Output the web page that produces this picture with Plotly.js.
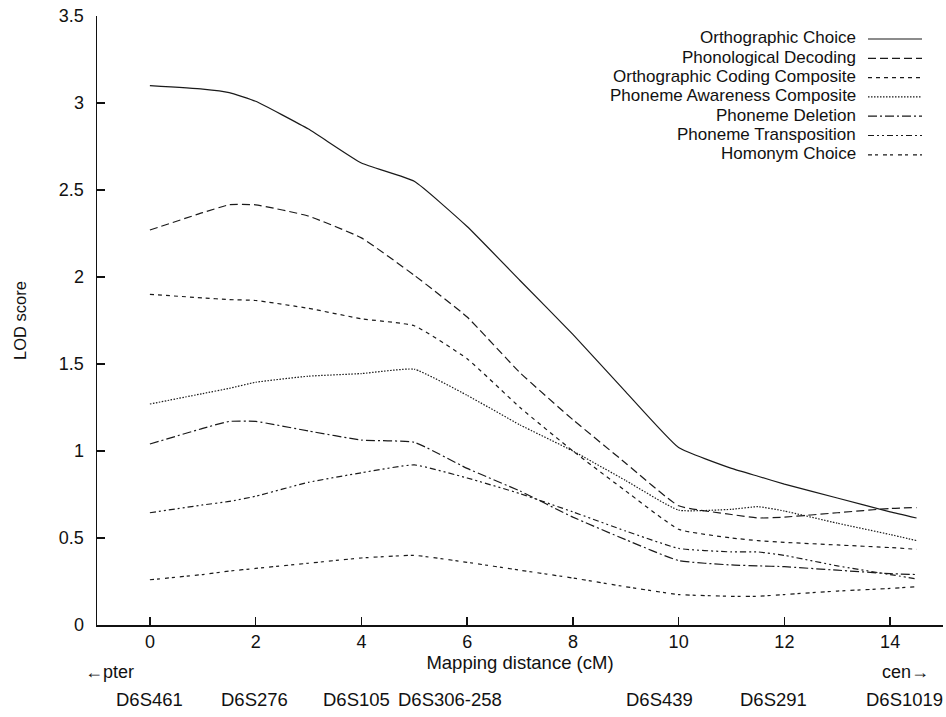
<!DOCTYPE html>
<html>
<head>
<meta charset="utf-8">
<script src="https://cdn.plot.ly/plotly-3.0.1.min.js"></script>
<style>html,body{margin:0;padding:0;background:#fff;}#chart{width:946px;height:717px;}</style>
</head>
<body>
<div id="chart"></div>
<script>
// Mapping distance (cM)
const distance = [0, 1, 1.5, 2, 3, 4, 5, 6, 7, 8, 9, 10, 11, 11.5, 12, 13, 14, 14.5];

const orthographicChoice   = [3.10, 3.08, 3.06, 3.01, 2.85, 2.655, 2.55, 2.29, 1.98, 1.67, 1.34, 1.02, 0.90, 0.855, 0.81, 0.73, 0.65, 0.615];
const phonologicalDecoding = [2.27, 2.37, 2.415, 2.415, 2.35, 2.225, 2.01, 1.77, 1.45, 1.18, 0.93, 0.685, 0.635, 0.615, 0.62, 0.645, 0.67, 0.675];
const orthoCodingComposite = [1.90, 1.88, 1.87, 1.865, 1.82, 1.76, 1.72, 1.53, 1.25, 1.00, 0.77, 0.55, 0.50, 0.485, 0.475, 0.46, 0.445, 0.435];
const phonemeAwareness     = [1.27, 1.33, 1.36, 1.395, 1.43, 1.445, 1.47, 1.32, 1.15, 1.00, 0.83, 0.66, 0.665, 0.68, 0.655, 0.585, 0.52, 0.485];
const phonemeDeletion      = [1.04, 1.13, 1.17, 1.17, 1.115, 1.063, 1.05, 0.90, 0.77, 0.62, 0.49, 0.37, 0.345, 0.34, 0.335, 0.315, 0.295, 0.29];
const phonemeTransposition = [0.645, 0.69, 0.71, 0.74, 0.82, 0.875, 0.92, 0.845, 0.755, 0.65, 0.54, 0.44, 0.42, 0.42, 0.40, 0.34, 0.29, 0.265];
const homonymChoice        = [0.26, 0.29, 0.31, 0.325, 0.355, 0.385, 0.40, 0.36, 0.315, 0.27, 0.22, 0.175, 0.165, 0.165, 0.175, 0.195, 0.21, 0.22];

const seriesNames = ["Orthographic Choice", "Phonological Decoding", "Orthographic Coding Composite",
  "Phoneme Awareness Composite", "Phoneme Deletion", "Phoneme Transposition", "Homonym Choice"];

// Marker labels along the map (cM positions)
const markerLabels = ["D6S461", "D6S276", "D6S105", "D6S306-258", "D6S439", "D6S291", "D6S1019"];
const markerPos    = [0, 1.98, 3.91, 5.67, 9.64, 11.8, 14.27];

const xTicks = [0, 2, 4, 6, 8, 10, 12, 14];
const yTicks = [0, 0.5, 1, 1.5, 2, 2.5, 3, 3.5];

const seriesValues = [orthographicChoice, phonologicalDecoding, orthoCodingComposite,
  phonemeAwareness, phonemeDeletion, phonemeTransposition, homonymChoice];
const dashes = ["solid", "8px,4px", "4px,4px", "1.5px,1.5px", "9px,3px,2px,3px", "6px,3px,2px,3px,2px,3px", "4px,3px,3px,5px"];

const FONT = '"Liberation Sans", Arial, Helvetica, sans-serif';
const INK = "#1a1a1a";

const traces = seriesNames.map((n, i) => ({
  type: "scatter", mode: "lines", name: n, showlegend: false,
  x: distance, y: seriesValues[i],
  line: {color: INK, width: 1.2, dash: dashes[i], shape: "spline", smoothing: 0.4}
}));

// plot-area geometry (pixels) used to place legend in paper coordinates
const W = 946, H = 717, ML = 97, MR = 3, MT = 16, MB = 92;
const PW = W - ML - MR, PH = H - MT - MB;
const px = v => (v - ML) / PW;
const py = v => (H - MB - v) / PH;

const annotations = markerLabels.map((t, i) => ({
  text: t, x: markerPos[i], xref: "x", y: py(699), yref: "paper",
  xanchor: "center", yanchor: "middle", showarrow: false,
  font: {family: FONT, size: 18.5, color: "#111"}
}));
annotations.push({text: "←pter", x: -0.76, xref: "x", y: py(672), yref: "paper",
  xanchor: "center", yanchor: "middle", showarrow: false, font: {family: FONT, size: 18, color: "#111"}});
annotations.push({text: "cen→", x: 14.3, xref: "x", y: py(672), yref: "paper",
  xanchor: "center", yanchor: "middle", showarrow: false, font: {family: FONT, size: 18, color: "#111"}});

// custom legend: right-aligned labels with line keys to the right
const shapes = [];
seriesNames.forEach((n, i) => {
  const rowY = 38 + 19.3 * i;
  annotations.push({text: n, x: px(858), xref: "paper", y: py(rowY), yref: "paper",
    xanchor: "right", yanchor: "middle", showarrow: false,
    font: {family: FONT, size: 17, color: "#111"}});
  shapes.push({type: "line", xref: "paper", yref: "paper",
    x0: px(868), x1: px(922), y0: py(rowY + 1), y1: py(rowY + 1),
    line: {color: INK, width: 1.2, dash: dashes[i]}});
});

const layout = {
  width: W, height: H,
  margin: {l: ML, r: MR, t: MT, b: MB},
  paper_bgcolor: "#fff", plot_bgcolor: "#fff",
  font: {family: FONT, size: 18, color: "#111"},
  showlegend: false,
  xaxis: {
    range: [-1, 15], tickvals: xTicks, ticktext: xTicks.map(String),
    showgrid: false, zeroline: false, showline: true, linecolor: "#111", linewidth: 1.5,
    ticks: "inside", ticklen: 8, tickwidth: 1.3, tickcolor: "#111",
    tickfont: {family: FONT, size: 18},
    title: {text: "Mapping distance (cM)", font: {family: FONT, size: 18.5}, standoff: 2},
    automargin: false
  },
  yaxis: {
    range: [0, 3.5], tickvals: yTicks, ticktext: yTicks.map(String),
    showgrid: false, zeroline: false, showline: true, linecolor: "#111", linewidth: 1.5,
    ticks: "inside", ticklen: 8, tickwidth: 1.3, tickcolor: "#111",
    tickfont: {family: FONT, size: 18}, ticklabelstandoff: 8,
    title: {text: "LOD score", font: {family: FONT, size: 16.5}, standoff: 28},
    automargin: false
  },
  annotations: annotations,
  shapes: shapes
};

Plotly.newPlot("chart", traces, layout, {displayModeBar: false, staticPlot: true});
</script>
</body>
</html>
